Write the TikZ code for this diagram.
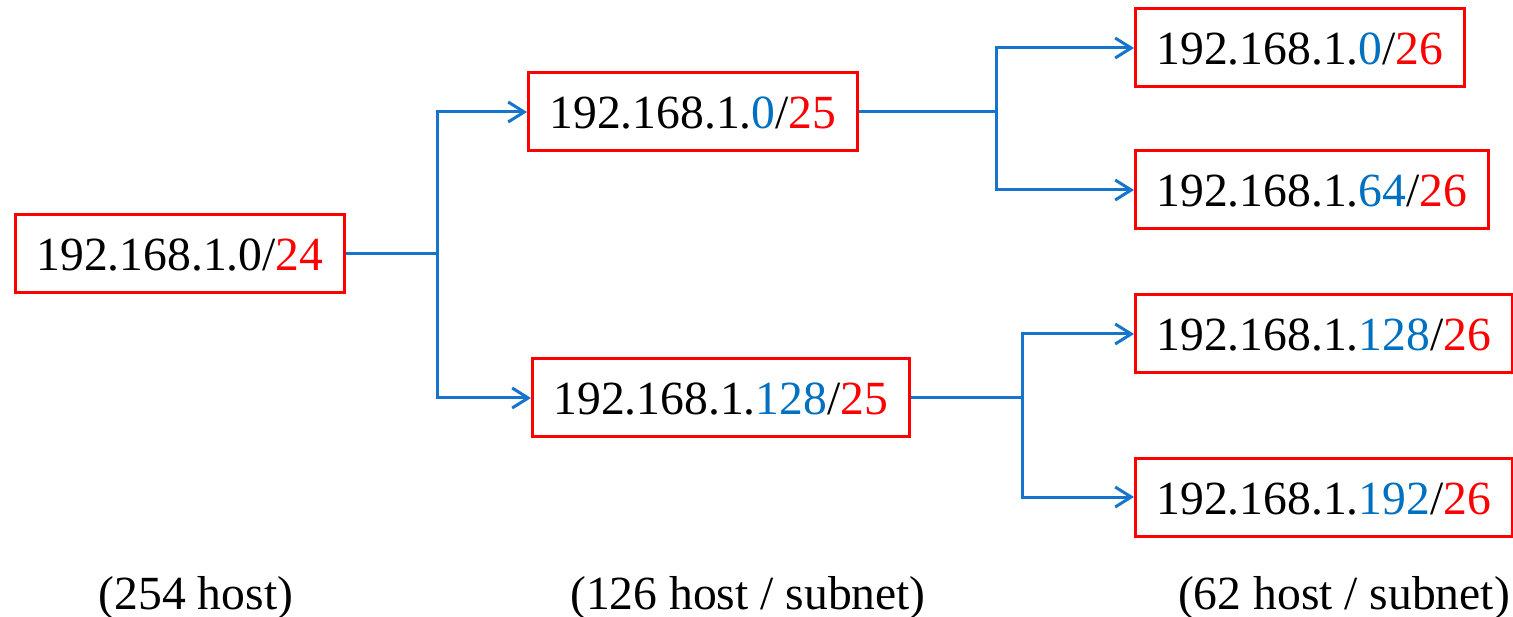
\documentclass[tikz,border=0pt]{standalone}
\usepackage{fontspec}
\setmainfont{Liberation Serif}
\usetikzlibrary{arrows.meta}
\definecolor{netblue}{RGB}{0,112,192}
\definecolor{linkblue}{RGB}{22,116,204}
\definecolor{netred}{RGB}{255,0,0}
\begin{document}
\begin{tikzpicture}[x=1pt,y=-1pt,
  bigtext/.style={font=\fontsize{47.6}{57}\selectfont},
  netbox/.style={bigtext, draw=netred, line width=3pt, anchor=west,
    minimum height=78pt, inner xsep=21pt, inner ysep=0pt,
    text height=34pt, text depth=0pt},
  link/.style={draw=linkblue, line width=3pt},
  arr/.style={link, -{Straight Barb[length=16pt,width=20pt]}},
  lbl/.style={bigtext, anchor=base, inner sep=0pt}]
\useasboundingbox (0,0) rectangle (1513,617);
\clip (0,0) rectangle (1513,617);

% address blocks
\node[netbox] (root) at (14,254) {192.168.1.0/\textcolor{netred}{24}};
\node[netbox] (a0)   at (527,112) {192.168.1.\textcolor{netblue}{0}/\textcolor{netred}{25}};
\node[netbox] (a128) at (531,398) {192.168.1.\textcolor{netblue}{128}/\textcolor{netred}{25}};
\node[netbox] (b0)   at (1134,48)  {192.168.1.\textcolor{netblue}{0}/\textcolor{netred}{26}};
\node[netbox] (b64)  at (1134,190) {192.168.1.\textcolor{netblue}{64}/\textcolor{netred}{26}};
\node[netbox] (b128) at (1134,334) {192.168.1.\textcolor{netblue}{128}/\textcolor{netred}{26}};
\node[netbox] (b192) at (1134,497) {192.168.1.\textcolor{netblue}{192}/\textcolor{netred}{26}};

% split points
\coordinate (j1) at (437,254);
\coordinate (j2) at (996,112);
\coordinate (j3) at (1022,398);

\draw[link] (root.east) -- (j1);
\draw[arr] (j1) |- (a0.west);
\draw[arr] (j1) |- (a128.west);

\draw[link] (a0.east) -- (j2);
\draw[arr] (j2) |- (b0.west);
\draw[arr] (j2) |- (b64.west);

\draw[link] (a128.east) -- (j3);
\draw[arr] (j3) |- (b128.west);
\draw[arr] (j3) |- (b192.west);

% host counts per level
\node[lbl] (h24) at (196,609)  {(254 host)};
\node[lbl] (h25) at (748,609)  {(126 host / subnet)};
\node[lbl] (h26) at (1344,609) {(62 host / subnet)};
\end{tikzpicture}
\end{document}
